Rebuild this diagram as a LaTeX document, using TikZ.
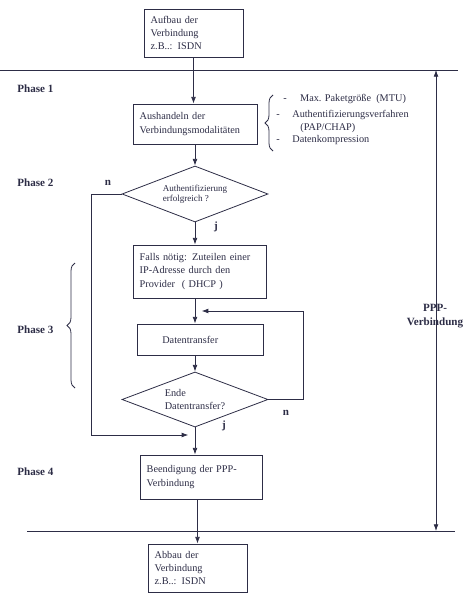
\documentclass[tikz,border=0pt]{standalone}
\usepackage{fontspec}
\setmainfont{Liberation Serif}
\usetikzlibrary{shapes.geometric,arrows.meta,decorations.pathreplacing}
\definecolor{tinte}{RGB}{45,45,70}

\begin{document}
\begin{tikzpicture}[x=0.75pt, y=-0.75pt, >={Latex[length=5pt,width=3.6pt]},
        line width=0.6pt, color=tinte,
        box/.style={draw, rectangle, inner xsep=5pt, inner ysep=2pt, align=left,
                    font=\fontsize{7.7}{10}\selectfont},
        raute/.style={draw, diamond, aspect=2.6, inner sep=0pt, align=left},
        phase/.style={anchor=west, inner sep=0pt, font=\fontsize{8.3}{10}\selectfont\bfseries},
        jn/.style={inner sep=0pt, font=\fontsize{8.3}{10}\selectfont\bfseries},
        liste/.style={anchor=west, inner sep=0pt, font=\fontsize{7.7}{10}\selectfont}]
        \useasboundingbox (0,0) rectangle (474,599);
        %% Kaestchen und Rauten
        \node[box, text width=64.3pt, minimum height=36pt] (aufbau) at (193.5,33)
            {Aufbau der\\Verbindung\\z.B..: ISDN};
        \node[box, text width=83pt, minimum height=30pt] (aush) at (195,124)
            {Aushandeln der\\Verbindungsmodalitäten};
        \node[raute, minimum width=109.5pt, minimum height=42pt,
              font=\fontsize{6.8}{7.5}\selectfont] (auth) at (195,194)
            {Authentifizierung\\erfolgreich ?};
        \node[box, text width=89.8pt, minimum height=39.8pt] (falls) at (199.5,271.5)
            {Falls nötig: Zuteilen einer\\IP-Adresse durch den\\Provider \ ( DHCP )};
        \node[box, text width=84.5pt, minimum height=23.3pt] (daten) at (200,339.5)
            {\hspace*{14pt}Datentransfer};
        \node[raute, minimum width=109.5pt, minimum height=41.3pt,
              font=\fontsize{7.7}{9.75}\selectfont] (ende) at (195,399.5)
            {Ende\\Datentransfer?};
        \node[box, text width=81.5pt, minimum height=33pt] (beend) at (201,477)
            {Beendigung der PPP-\\Verbindung};
        \node[box, text width=64.3pt, minimum height=36pt] (abbau) at (197.5,568)
            {Abbau der\\Verbindung\\z.B..: ISDN};
        %% Phasen
        \node[phase] (p1) at (17,89) {Phase 1};
        \node[phase] (p2) at (17,183) {Phase 2};
        \node[phase] (p3) at (17,330) {Phase 3};
        \node[phase] (p4) at (17,472) {Phase 4};
        %% Modalitaeten
        \node[liste] (l1) at (283,99) {-\hspace{10pt}Max. Paketgröße \ (MTU)};
        \node[liste] (l2) at (276,115) {-\hspace{9.4pt}Authentifizierungsverfahren};
        \node[liste] (l3) at (300,128) {(PAP/CHAP)};
        \node[liste] (l4) at (276,140) {-\hspace{9.4pt}Datenkompression};
        \draw[decorate, decoration={brace, amplitude=6pt}] (273,151) -- (273,95);
        \draw[decorate, decoration={brace, amplitude=6pt}] (75,388) -- (75,263);
        %% Trennlinien
        \coordinate (ol) at (0,70);
        \coordinate (or) at (458,70);
        \coordinate (ul) at (27,531);
        \coordinate (ur) at (455,531);
        \draw (ol) -- (or);
        \draw (ul) -- (ur);
        %% PPP-Verbindung
        \coordinate (ppp1) at (436,70);
        \coordinate (ppp2) at (436,531);
        \draw[<->] (ppp1) -- (ppp2);
        \node[jn, align=center, font=\fontsize{8.3}{10.5}\selectfont\bfseries]
            (ppp) at (435,316) {PPP-\\Verbindung};
        %% Hauptpfeile
        \draw[->] (aufbau.south) -- (aufbau.south |- aush.north);
        \draw[->] (aush.south -| auth) -- (auth.north);
        \draw[->] (auth.south) -- (auth.south |- falls.north);
        \draw[->] (falls.south -| ende) -- (ende.north |- daten.north);
        \draw[->] (daten.south -| ende) -- (ende.north);
        \draw[->] (ende.south) -- (ende.south |- beend.north);
        \draw[->] (beend.south -| abbau) -- (abbau.north);
        %% Schleifen
        \coordinate (rueck) at (303,311);
        \coordinate (nlinks) at (91,435);
        \draw[->] (ende.east) -| (rueck) -- ([xshift=5pt]rueck -| ende);
        \draw[->] (auth.west) -| (nlinks) -- ([xshift=-5pt]nlinks -| ende);
        \node[jn] (n1) at (108,183) {n};
        \node[jn] (j1) at (216,227) {j};
        \node[jn] (n2) at (286,413) {n};
        \node[jn] (j2) at (224,426) {j};
\end{tikzpicture}
\end{document}
